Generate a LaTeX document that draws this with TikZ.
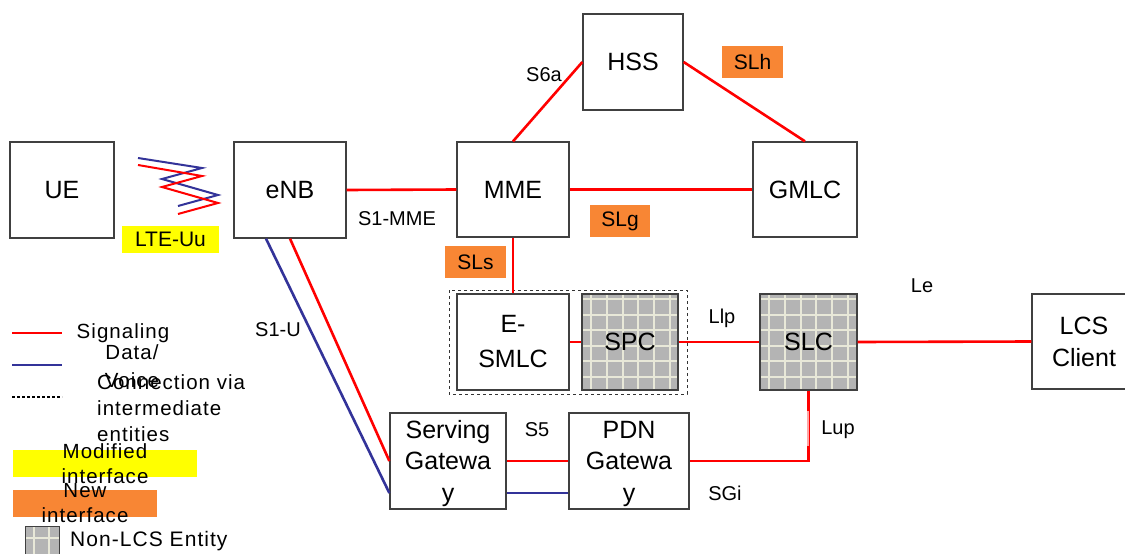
\documentclass[tikz,border=0pt]{standalone}
\usepackage{fontspec}
\setmainfont{Liberation Sans}
\newfontfamily\legfont[LetterSpace=5]{Liberation Sans}
\definecolor{sigred}{RGB}{255,0,0}
\definecolor{datablue}{RGB}{51,51,153}
\definecolor{newor}{RGB}{248,134,52}
\definecolor{modyel}{RGB}{255,255,0}
\definecolor{gridfill}{RGB}{180,180,180}
\definecolor{gridln}{RGB}{232,232,216}
\begin{document}
\begin{tikzpicture}[x=1pt,y=-1pt,
  box/.style={draw=black!75, line width=1.3pt, inner sep=0pt, align=center,
    font=\fontsize{25}{32}\selectfont},
  gridbox/.style={box, fill=gridfill, path picture={
    \foreach \k in {0,...,5}
      \draw[gridln, line width=2pt]
        ([xshift=9pt+\k*15.8pt]path picture bounding box.north west) --
        ([xshift=9pt+\k*15.8pt]path picture bounding box.south west);
    \foreach \k in {0,...,5}
      \draw[gridln, line width=2pt]
        ([yshift=-5pt-\k*15.6pt]path picture bounding box.north west) --
        ([yshift=-5pt-\k*15.6pt]path picture bounding box.north east);
  }},
  sig/.style={sigred, line width=2.6pt},
  dat/.style={datablue, line width=2.6pt},
  lbl/.style={inner sep=0pt, font=\fontsize{20}{24}\selectfont},
  leg/.style={inner sep=0pt, font=\legfont\fontsize{20.5}{26}\selectfont},
  newif/.style={fill=newor, inner sep=0pt, font=\fontsize{21}{24}\selectfont},
  modif/.style={fill=modyel, inner sep=0pt, font=\fontsize{21}{24}\selectfont}
]
\useasboundingbox (0,0) rectangle (1125,554);

% boxes
\node[box, minimum width=104, minimum height=96] (UE) at (62,190) {UE};
\node[box, minimum width=112, minimum height=96] (eNB) at (290,190) {eNB};
\node[box, minimum width=112, minimum height=95] (MME) at (513,189.5) {MME};
\node[box, minimum width=104, minimum height=95] (GMLC) at (805,189.5) {GMLC};
\node[box, minimum width=100, minimum height=96] (HSS) at (633,62) {HSS};
\node[box, minimum width=112, minimum height=96, font=\fontsize{25}{35}\selectfont] (ESMLC) at (513,342) {E-\\SMLC};
\node[gridbox, minimum width=96, minimum height=96] (SPC) at (630,342) {SPC};
\node[gridbox, minimum width=97, minimum height=96] (SLC) at (808.5,342) {SLC};
\node[box, minimum width=104, minimum height=95] (LCS) at (1084,341.5) {LCS\\Client};
\node[box, minimum width=116, minimum height=96, font=\fontsize{25}{31.5}\selectfont] (SGW) at (448,461) {\rule{0pt}{22.5pt}Serving\\Gatewa\\y};
\node[box, minimum width=120, minimum height=96, font=\fontsize{25}{31.5}\selectfont] (PDN) at (629,461) {\rule{0pt}{22.5pt}PDN\\Gatewa\\y};

% dashed grouping
\draw[dashed, black!80, line width=0.9pt] (449,290) rectangle (687,394);

% connectors
\draw[sig] (eNB.east) -- (MME.west);
\draw[sig] (MME.east) -- (GMLC.west);
\draw[sig] (MME.south) -- (ESMLC.north);
\draw[sig] (MME.north) -- (HSS.west);
\draw[sig] (HSS.east) -- (GMLC.north);
\draw[sig] (ESMLC.east) -- (SPC.west);
\draw[sig] (SPC.east) -- (SLC.west);
\draw[sig] (SLC.east) -- (LCS.west);
\draw[sig] (SLC.south) |- (PDN.east);
\draw[sigred!35, line width=2.6pt] (808,411) -- (808,446);
\draw[sig] (SGW.east) -- (PDN.west);
\draw[dat] ([yshift=-32pt]SGW.east) -- ([yshift=-32pt]PDN.west);
\draw[sig] (eNB.south) -- (SGW.west);
\draw[dat] ([xshift=-24pt]eNB.south) -- ([yshift=-32pt]SGW.west);

% radio zigzag
\draw[dat, line width=2pt] (138,158) -- (202,168) -- (162,179) -- (218,195) -- (178,206);
\draw[sig, line width=2pt] (138,165) -- (202,176) -- (162,187) -- (218,203) -- (178,214);

% interface labels
\node[modif, minimum width=97, minimum height=27] (lteuu) at (170.5,239.5) {LTE-Uu};
\node[newif, minimum width=60, minimum height=32] (slg) at (620,221) {SLg};
\node[newif, minimum width=61, minimum height=32] (sls) at (475.5,262) {SLs};
\node[newif, minimum width=61, minimum height=32] (slh) at (752.5,62) {SLh};
\node[lbl] (s1mme) at (397,219) {S1-MME};
\node[lbl] (s6a) at (544,75) {S6a};
\node[lbl] (llp) at (722,318) {Llp};
\node[lbl] (le) at (922,286) {Le};
\node[lbl] (s1u) at (278,330) {S1-U};
\node[lbl] (s5) at (537,430) {S5};
\node[lbl] (sgi) at (725,493) {SGi};
\node[lbl] (lup) at (838,430) {Lup};

% legend
\draw[sigred, line width=2.4pt] (12,333) -- (62,333);
\draw[datablue, line width=2.4pt] (12,365) -- (62,365);
\draw[black, line width=1.8pt, dash pattern=on 3pt off 2pt] (12,397) -- (62,397);
\node[leg] (lsig) at (123,333) {Signaling};
\node[leg, align=center, font=\legfont\fontsize{20.5}{28}\selectfont] (ldata) at (132,366) {Data/\\Voice};
\node[leg, align=left, anchor=west] (lconn) at (97,408) {Connection via\\intermediate\\entities};
\draw[fill=modyel, draw=none] (13,450) rectangle (197,477);
\node[leg, align=center, font=\legfont\fontsize{20.5}{25}\selectfont] (lmod) at (105,463.5) {Modified\\interface};
\draw[fill=newor, draw=none] (13,490) rectangle (157,517);
\node[leg, align=center, font=\legfont\fontsize{20.5}{25}\selectfont] (lnew) at (85,503.5) {New\\interface};
\node[gridbox, minimum width=34, minimum height=34, anchor=north west,
  path picture={
    \draw[gridln, line width=2pt] ([xshift=8pt]path picture bounding box.north west) -- ([xshift=8pt]path picture bounding box.south west);
    \draw[gridln, line width=2pt] ([xshift=23pt]path picture bounding box.north west) -- ([xshift=23pt]path picture bounding box.south west);
    \draw[gridln, line width=2pt] ([yshift=-11pt]path picture bounding box.north west) -- ([yshift=-11pt]path picture bounding box.north east);
  }] (licon) at (25,526) {};
\node[leg, anchor=west, font=\legfont\fontsize{21}{24}\selectfont] (lnon) at (70,541) {Non-LCS Entity};
\end{tikzpicture}
\end{document}
